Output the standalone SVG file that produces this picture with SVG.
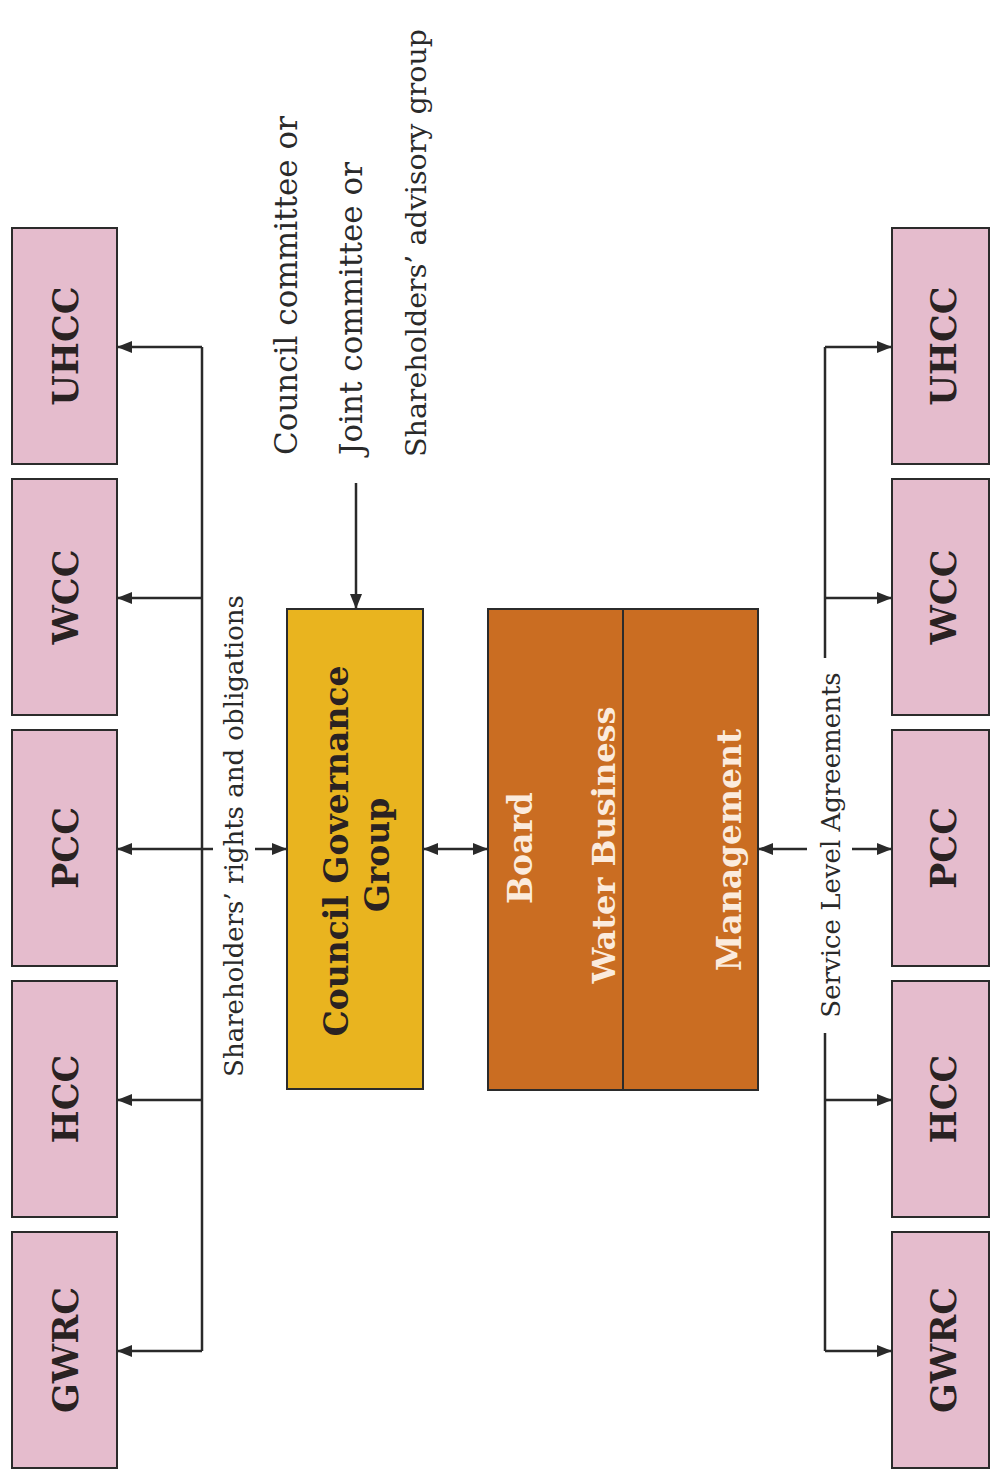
<svg xmlns="http://www.w3.org/2000/svg" width="990" height="1472" viewBox="0 0 990 1472">
<style>
.pink{fill:#E5BCCD;stroke:#2b2b2b;stroke-width:2}
.gold{fill:#E9B41F;stroke:#2b2b2b;stroke-width:2}
.rust{fill:#CA6D22;stroke:#2b2b2b;stroke-width:2}
.bl{font-family:"DejaVu Serif",serif;font-weight:bold;font-size:35px;fill:#2a2222;text-anchor:middle}
.bw{font-family:"DejaVu Serif",serif;font-weight:bold;font-size:33px;fill:#FBEBDD;text-anchor:middle}
.lab{font-family:"DejaVu Serif",serif;font-size:31px;fill:#2a2a2a}
.conn{stroke:#2a2a2a;stroke-width:2.5;fill:none}
</style>
<defs>
<marker id="ah" markerUnits="userSpaceOnUse" markerWidth="16" markerHeight="12" refX="15" refY="6" orient="auto-start-reverse">
<path d="M0,0 L15,6 L0,12 z" fill="#2a2a2a"/>
</marker>
</defs>
<rect width="990" height="1472" fill="#ffffff"/>

<g id="left-uhcc"><rect class="pink" x="12" y="228" width="105" height="236"/><text class="bl" transform="translate(78,346) rotate(-90)">UHCC</text></g>
<g id="left-wcc"><rect class="pink" x="12" y="479" width="105" height="236"/><text class="bl" transform="translate(78,597) rotate(-90)">WCC</text></g>
<g id="left-pcc"><rect class="pink" x="12" y="730" width="105" height="236"/><text class="bl" transform="translate(78,848) rotate(-90)">PCC</text></g>
<g id="left-hcc"><rect class="pink" x="12" y="981" width="105" height="236"/><text class="bl" transform="translate(78,1099) rotate(-90)">HCC</text></g>
<g id="left-gwrc"><rect class="pink" x="12" y="1232" width="105" height="236"/><text class="bl" transform="translate(78,1350) rotate(-90)">GWRC</text></g>

<g id="right-uhcc"><rect class="pink" x="892" y="228" width="97" height="236"/><text class="bl" transform="translate(956,346) rotate(-90)">UHCC</text></g>
<g id="right-wcc"><rect class="pink" x="892" y="479" width="97" height="236"/><text class="bl" transform="translate(956,597) rotate(-90)">WCC</text></g>
<g id="right-pcc"><rect class="pink" x="892" y="730" width="97" height="236"/><text class="bl" transform="translate(956,848) rotate(-90)">PCC</text></g>
<g id="right-hcc"><rect class="pink" x="892" y="981" width="97" height="236"/><text class="bl" transform="translate(956,1099) rotate(-90)">HCC</text></g>
<g id="right-gwrc"><rect class="pink" x="892" y="1232" width="97" height="236"/><text class="bl" transform="translate(956,1350) rotate(-90)">GWRC</text></g>

<g id="council-governance-group">
<rect class="gold" x="287" y="609" width="136" height="480"/>
<text class="bl" style="font-size:33px" transform="translate(348,851) rotate(-90)">Council Governance</text>
<text class="bl" style="font-size:33px" transform="translate(389,855) rotate(-90)">Group</text>
</g>

<g id="water-business">
<rect class="rust" x="488" y="609" width="270" height="481"/>
<line x1="623" y1="609" x2="623" y2="1090" stroke="#2b2b2b" stroke-width="2"/>
<text class="bw" transform="translate(532,848) rotate(-90)">Board</text>
<text class="bw" style="font-size:32px" transform="translate(615,845) rotate(-90)">Water Business</text>
<text class="bw" transform="translate(741,850) rotate(-90)">Management</text>
</g>

<g id="labels">
<text class="lab" transform="translate(297,455) rotate(-90)">Council committee or</text>
<text class="lab" transform="translate(362,455) rotate(-90)">Joint committee or</text>
<text class="lab" style="font-size:28.5px" transform="translate(426,457) rotate(-90)">Shareholders’ advisory group</text>
<text class="lab" style="font-size:26px" text-anchor="middle" transform="translate(243,836) rotate(-90)">Shareholders’ rights and obligations</text>
<text class="lab" style="font-size:26px" text-anchor="middle" transform="translate(840,845) rotate(-90)">Service Level Agreements</text>
</g>

<g id="connectors">
<line class="conn" x1="202" y1="347" x2="202" y2="1351"/>
<line class="conn" x1="202" y1="347" x2="117" y2="347" marker-end="url(#ah)"/>
<line class="conn" x1="202" y1="598" x2="117" y2="598" marker-end="url(#ah)"/>
<line class="conn" x1="213" y1="849" x2="117" y2="849" marker-end="url(#ah)"/>
<line class="conn" x1="202" y1="1100" x2="117" y2="1100" marker-end="url(#ah)"/>
<line class="conn" x1="202" y1="1351" x2="117" y2="1351" marker-end="url(#ah)"/>
<line class="conn" x1="255" y1="849" x2="287" y2="849" marker-end="url(#ah)"/>
<line class="conn" x1="356" y1="483" x2="356" y2="609" marker-end="url(#ah)"/>
<line class="conn" x1="423" y1="849" x2="488" y2="849" marker-start="url(#ah)" marker-end="url(#ah)"/>
<line class="conn" x1="825" y1="347" x2="825" y2="658"/>
<line class="conn" x1="825" y1="1033" x2="825" y2="1351"/>
<line class="conn" x1="825" y1="347" x2="892" y2="347" marker-end="url(#ah)"/>
<line class="conn" x1="825" y1="598" x2="892" y2="598" marker-end="url(#ah)"/>
<line class="conn" x1="825" y1="1100" x2="892" y2="1100" marker-end="url(#ah)"/>
<line class="conn" x1="825" y1="1351" x2="892" y2="1351" marker-end="url(#ah)"/>
<line class="conn" x1="807" y1="849" x2="758" y2="849" marker-end="url(#ah)"/>
<line class="conn" x1="852" y1="849" x2="892" y2="849" marker-end="url(#ah)"/>
</g>
</svg>
